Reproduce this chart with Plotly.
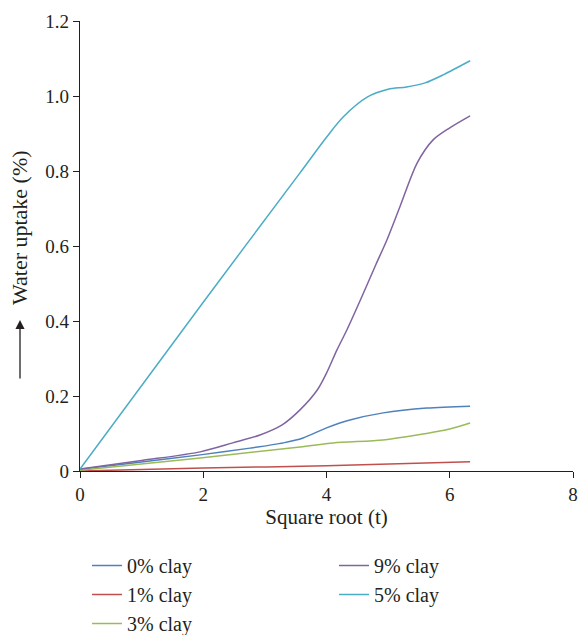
import plotly.graph_objects as go

# Data
x_blue = [0, 1.0, 1.95, 2.76, 3.3, 3.62, 4.0, 4.38, 4.92, 5.63, 6.33]
y_blue = [0.005, 0.024, 0.043, 0.061, 0.075, 0.088, 0.115, 0.136, 0.155, 0.168, 0.173]

x_red = [0, 2.0, 4.0, 6.33]
y_red = [0.0, 0.008, 0.014, 0.025]

x_green = [0, 1.95, 3.57, 4.11, 4.92, 5.47, 6.0, 6.33]
y_green = [0.002, 0.035, 0.064, 0.075, 0.083, 0.096, 0.112, 0.128]

x_purple = [0, 1.0, 1.95, 2.48, 2.92, 3.28, 3.57, 3.85, 4.0, 4.17, 4.33, 4.55, 4.8, 4.98, 5.19, 5.47, 5.73, 6.0, 6.33]
y_purple = [0.005, 0.028, 0.051, 0.075, 0.096, 0.123, 0.163, 0.216, 0.261, 0.323, 0.376, 0.456, 0.55, 0.616, 0.704, 0.821, 0.883, 0.915, 0.947]

x_cyan = [0, 2.0, 3.57, 4.0, 4.27, 4.66, 5.0, 5.3, 5.6, 5.9, 6.33]
y_cyan = [0.005, 0.45, 0.795, 0.89, 0.944, 0.997, 1.018, 1.024, 1.035, 1.057, 1.094]

x_ticks = [0, 2, 4, 6, 8]
y_ticks = [0, 0.2, 0.4, 0.6, 0.8, 1.0, 1.2]
y_tick_text = ["0", "0.2", "0.4", "0.6", "0.8", "1.0", "1.2"]

FONT = "Liberation Serif"
INK = "#231f20"

fig = go.Figure()
series = [
    ("0% clay", x_blue, y_blue, "#4f81bd", "legend"),
    ("1% clay", x_red, y_red, "#c0504d", "legend"),
    ("3% clay", x_green, y_green, "#9bbb59", "legend"),
    ("9% clay", x_purple, y_purple, "#8064a2", "legend2"),
    ("5% clay", x_cyan, y_cyan, "#4bacc6", "legend2"),
]
for name, xs, ys, col, lg in series:
    fig.add_trace(go.Scatter(x=xs, y=ys, mode="lines", name=name,
                             line=dict(color=col, width=1.5, shape="spline", smoothing=0.8),
                             legend=lg))

W, H = 579, 635
ml, mt = 80, 21
mr = W - 573
mb = H - 471
pw = W - ml - mr
ph = H - mt - mb

def py(screen):
    return (H - mb - screen) / ph

def px(screen):
    return (screen - ml) / pw

fig.update_layout(
    width=W, height=H,
    margin=dict(l=ml, r=mr, t=mt, b=mb, autoexpand=False),
    paper_bgcolor="white", plot_bgcolor="white",
    font=dict(family=FONT, size=19, color=INK),
    showlegend=True,
    legend=dict(x=px(87), y=py(546), xanchor="left", yanchor="top", orientation="v",
                bgcolor="rgba(0,0,0,0)", font=dict(size=20), tracegroupgap=0, itemwidth=30),
    legend2=dict(x=px(334), y=py(546), xanchor="left", yanchor="top", orientation="v",
                 bgcolor="rgba(0,0,0,0)", font=dict(size=20), tracegroupgap=0, itemwidth=30),
    xaxis=dict(range=[0, 8], tickvals=x_ticks, showgrid=False, zeroline=False,
               showline=True, linecolor=INK, linewidth=1.2, automargin=False,
               ticks="outside", ticklen=6, tickcolor=INK, ticklabeloverflow="allow",
               tickfont=dict(size=19),
               title=dict(text="Square root (t)", standoff=5, font=dict(size=21))),
    yaxis=dict(range=[0, 1.2], tickvals=y_ticks, ticktext=y_tick_text, showgrid=False,
               zeroline=False, showline=True, linecolor=INK, linewidth=1.2, automargin=False,
               ticks="outside", ticklen=6, tickcolor=INK, tickfont=dict(size=19)),
)

# y-axis title and arrow
fig.add_annotation(text="Water uptake (%)", textangle=-90, xref="paper", yref="paper",
                   x=px(20), y=py(228), showarrow=False,
                   font=dict(size=22, family=FONT), xanchor="center", yanchor="middle")
fig.add_annotation(text="", xref="paper", yref="paper",
                   x=px(20), y=py(320),
                   ax=0, ay=60, showarrow=True, arrowhead=2, arrowsize=1.4,
                   arrowwidth=1.3, arrowcolor=INK)

fig.write_html("out.html", config={"displayModeBar": False},
               post_script="document.body.style.margin='0px';document.body.style.overflow='hidden';")
